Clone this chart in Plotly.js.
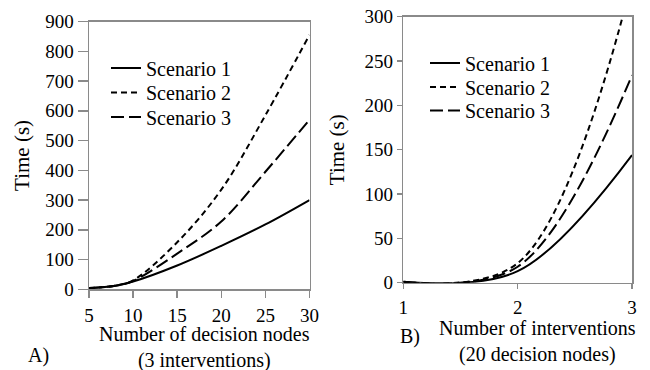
<!DOCTYPE html>
<html>
<head>
<meta charset="utf-8">
<script src="https://cdn.plot.ly/plotly-3.0.1.min.js"></script>
</head>
<body style="margin:0">
<div id="chart" style="width:650px;height:370px"></div>
<script>
// Panel A: 3 interventions, varying number of decision nodes
const nodesX = [5, 8, 10, 15, 20, 25, 30];
const nodesScenario1 = [4, 12, 26, 80, 146, 218, 300];
const nodesScenario2 = [4, 12, 30, 158, 335, 585, 855];
const nodesScenario3 = [4, 12, 28, 120, 228, 395, 570];

// Panel B: 20 decision nodes, varying number of interventions
const intervX = [1, 2, 3];
const intervScenario1 = [1.2, 13, 144];
const intervScenario2 = [0.8, 22, 340];
const intervScenario3 = [1.0, 18, 234];

const seriesNames = ['Scenario 1', 'Scenario 2', 'Scenario 3'];
const leftTicks = [5, 10, 15, 20, 25, 30];
const leftYTicks = [0, 100, 200, 300, 400, 500, 600, 700, 800, 900];
const rightTicks = [1, 2, 3];
const rightYTicks = [0, 50, 100, 150, 200, 250, 300];

const SERIF = 'Liberation Serif';
const GRAY = '#8a8a8a';
const dashes = ['solid', '6px,4px', '13px,5px'];

function mk(x, y, i, xa, ya, leg, sm) {
  return {
    x: x, y: y, name: seriesNames[i], type: 'scatter', mode: 'lines',
    xaxis: xa, yaxis: ya, legend: leg,
    line: {color: '#000', width: 2, dash: dashes[i], shape: 'spline', smoothing: sm},
    hoverinfo: 'skip'
  };
}

const data = [
  mk(nodesX, nodesScenario1, 0, 'x', 'y', 'legend', 1),
  mk(nodesX, nodesScenario2, 1, 'x', 'y', 'legend2', 1),
  mk(nodesX, nodesScenario3, 2, 'x', 'y', 'legend3', 1),
  mk(intervX, intervScenario1, 0, 'x2', 'y2', 'legend4', 1),
  mk(intervX, intervScenario2, 1, 'x2', 'y2', 'legend5', 1),
  mk(intervX, intervScenario3, 2, 'x2', 'y2', 'legend6', 1)
];

function f(sz) { return {family: SERIF, size: sz, color: '#000'}; }

function axis(extra) {
  return Object.assign({
    showgrid: false, zeroline: false, showline: true, linecolor: GRAY, linewidth: 1.5,
    mirror: true, ticks: 'outside', tickcolor: GRAY, tickwidth: 1.5,
    tickfont: f(19), automargin: false, fixedrange: true
  }, extra);
}

function legend(x, y) {
  return {
    font: f(20), bgcolor: 'rgba(0,0,0,0)', borderwidth: 0,
    x: x / 650, y: 1 - y / 370, xanchor: 'left', yanchor: 'middle'
  };
}

function note(text, x, y) {
  return {text: text, xref: 'paper', yref: 'paper', x: x, y: y,
          xanchor: 'center', yanchor: 'middle', showarrow: false, font: f(20)};
}

const layout = {
  width: 650, height: 370,
  margin: {l: 0, r: 0, t: 0, b: 0},
  paper_bgcolor: '#fff', plot_bgcolor: '#fff',
  font: f(19),
  showlegend: true,
  xaxis: axis({domain: [89 / 650, 309.5 / 650], anchor: 'y', range: [5, 30],
               tickvals: leftTicks, ticklen: 7, ticklabelstandoff: 1}),
  yaxis: axis({domain: [1 - 289.3 / 370, 1 - 21.5 / 370], anchor: 'x', range: [0, 900],
               tickvals: leftYTicks, ticklen: 10,
               title: {text: 'Time (s)', font: f(21), standoff: 10}}),
  xaxis2: axis({domain: [403.3 / 650, 632 / 650], anchor: 'y2', range: [1, 3],
                tickvals: rightTicks, ticklen: 5, ticklabelstandoff: 2}),
  yaxis2: axis({domain: [1 - 282.7 / 370, 1 - 16.7 / 370], anchor: 'x2', range: [0, 300],
                tickvals: rightYTicks, ticklen: 5,
                title: {text: 'Time (s)', font: f(21), standoff: 14}}),
  legend: legend(106, 68),
  legend2: legend(106, 92.5),
  legend3: legend(106, 117),
  legend4: legend(425, 63),
  legend5: legend(425, 87),
  legend6: legend(425, 110.5),
  annotations: [
    note('Number of decision nodes<br>(3 interventions)', 204 / 650, 1 - 347 / 370),
    note('Number of interventions<br>(20 decision nodes)', 537 / 650, 1 - 341 / 370),
    note('A)', 38 / 650, 1 - 355 / 370),
    note('B)', 410 / 650, 1 - 336 / 370)
  ]
};

Plotly.newPlot('chart', data, layout, {displayModeBar: false, staticPlot: true});
</script>
</body>
</html>
